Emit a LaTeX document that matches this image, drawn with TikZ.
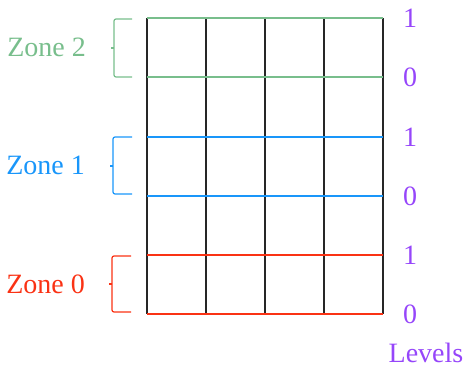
\documentclass[tikz,border=0pt]{standalone}
\usepackage{fontspec}
\setmainfont{Liberation Serif}
\usetikzlibrary{positioning}

\definecolor{zonegreen}{RGB}{120,190,140}
\definecolor{zoneblue}{RGB}{25,150,250}
\definecolor{zonered}{RGB}{250,50,20}
\definecolor{lvlpurple}{RGB}{150,70,250}

\begin{document}
\begin{tikzpicture}[
    x=1pt, y=-1pt,
    font=\fontsize{28}{32}\selectfont,
    gridline/.style={draw=black!85, line width=1.6pt},
    levelline/.style={line width=1.3pt},
    bracket/.style={line width=1.2pt, rounded corners=2pt},
    zonelabel/.style={anchor=east, inner sep=0pt},
    lvllabel/.style={text=lvlpurple, inner sep=0pt}
]
\useasboundingbox (0,0) rectangle (470,371);

% vertical grid lines
\draw[gridline] (147,18) -- (147,314);
\draw[gridline] (206,18) -- (206,314);
\draw[gridline] (265,18) -- (265,314);
\draw[gridline] (324,18) -- (324,314);
\draw[gridline] (383,18) -- (383,314);

% level lines of each zone
\draw[levelline, zonegreen] (147,18) -- (383,18);
\draw[levelline, zonegreen] (147,77) -- (383,77);
\draw[levelline, zoneblue] (147,137) -- (383,137);
\draw[levelline, zoneblue] (147,196) -- (383,196);
\draw[levelline, zonered] (147,255) -- (383,255);
\draw[levelline, zonered] (147,314) -- (383,314);

% zone brackets
\draw[bracket, zonegreen] (132,19) -- (114,19) -- (114,77) -- (132,77);
\draw[bracket, zonegreen] (114,48) -- (111,48);
\draw[bracket, zoneblue] (132,137) -- (113,137) -- (113,194) -- (132,194);
\draw[bracket, zoneblue] (113,166) -- (110,166);
\draw[bracket, zonered] (131,256) -- (112,256) -- (112,312) -- (131,312);
\draw[bracket, zonered] (112,284) -- (109,284);

% zone labels
\node[zonelabel, text=zonegreen] (zone2) at (86,47) {Zone 2};
\node[zonelabel, text=zoneblue] (zone1) at (85,165) {Zone 1};
\node[zonelabel, text=zonered] (zone0) at (85,284) {Zone 0};

% level labels
\node[lvllabel] (lvl2top) at (410,18) {1};
\node[lvllabel] (lvl2bot) at (410,77) {0};
\node[lvllabel] (lvl1top) at (410,137) {1};
\node[lvllabel] (lvl1bot) at (410,196) {0};
\node[lvllabel] (lvl0top) at (410,255) {1};
\node[lvllabel] (lvl0bot) at (410,314) {0};
\node[lvllabel] (levels) at (426,353) {Levels};

\end{tikzpicture}
\end{document}
